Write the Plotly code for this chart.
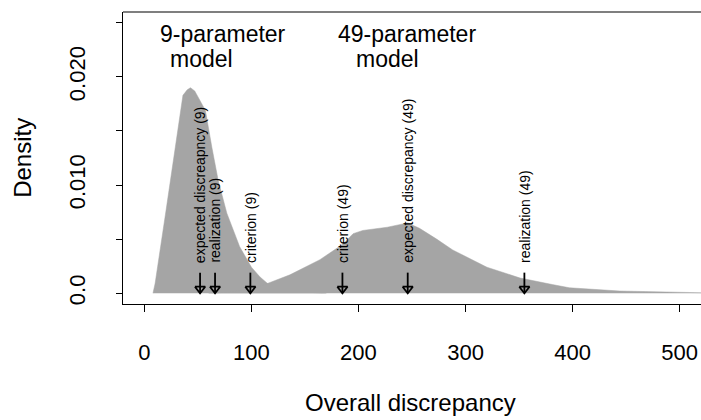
import plotly.graph_objects as go

# Density of the overall discrepancy under the 9-parameter model
nine_x = [8, 10, 20, 30, 36, 40, 43, 47, 57, 63, 69, 77, 89, 100, 108, 115, 130, 150, 170]
nine_y = [0.0, 0.0009, 0.0075, 0.0142, 0.0183, 0.0188, 0.0190, 0.0187, 0.0169, 0.0135,
          0.0104, 0.0074, 0.0043, 0.0024, 0.0015, 0.0009, 0.0004, 0.0001, 0.0]

# Density of the overall discrepancy under the 49-parameter model
forty9_x = [60, 80, 100, 115, 136, 164, 185, 195, 204, 227, 246, 257, 273, 288, 320,
            351, 381, 397, 444, 480, 520, 540]
forty9_y = [0.0, 0.0001, 0.0004, 0.0009, 0.0017, 0.0031, 0.0045, 0.0055, 0.0058, 0.0061,
            0.0065, 0.0060, 0.0050, 0.0040, 0.0024, 0.0014, 0.0008, 0.0005, 0.0002,
            0.00015, 0.0001, 0.0]

# Reference values marked with arrows along the baseline
marker_labels = ["expected discreapncy (9)", "realization (9)", "criterion (9)",
                 "criterion (49)", "expected discrepancy (49)", "realization (49)"]
marker_x = [52, 66, 99, 185, 246, 355]

x_ticks = [0, 100, 200, 300, 400, 500]
y_ticks = [0.0, 0.005, 0.010, 0.015, 0.020, 0.025]
y_tick_text = ["0.0", "", "0.010", "", "0.020", ""]

FONT = "Liberation Sans, Arial, Helvetica, sans-serif"
FILL = "#a5a5a5"

fig = go.Figure()

for xs, ys in ((nine_x, nine_y), (forty9_x, forty9_y)):
    fig.add_trace(go.Scatter(
        x=xs, y=ys, mode="lines", fill="toself", fillcolor=FILL,
        line=dict(color=FILL, width=0.5), hoverinfo="skip", showlegend=False))

# arrows: shaft plus an open triangular head whose tip sits on zero
shaft_top, head_top = 0.0019, 0.0006
head_half = 4.8
ax, ay = [], []
for mx in marker_x:
    ax += [mx, mx, None,
           mx - head_half, mx + head_half, mx, mx - head_half, None]
    ay += [shaft_top, 0.0, None,
           head_top, head_top, 0.0, head_top, None]
fig.add_trace(go.Scatter(x=ax, y=ay, mode="lines",
                         line=dict(color="black", width=1.8),
                         hoverinfo="skip", showlegend=False))

annotations = []
for lab, mx in zip(marker_labels, marker_x):
    annotations.append(dict(
        x=mx, y=0.0026, xref="x", yref="y", text=lab, textangle=-90,
        showarrow=False, xanchor="center", yanchor="bottom",
        font=dict(family=FONT, size=14, color="black")))

# model captions
for txt, xx, yy in (("9-parameter", 73.5, 0.0240), ("model", 53.5, 0.02166),
                    ("49-parameter", 245, 0.0240), ("model", 227.5, 0.02166)):
    annotations.append(dict(x=xx, y=yy, xref="x", yref="y", text=txt,
                            showarrow=False, xanchor="center", yanchor="middle",
                            font=dict(family=FONT, size=23, color="black")))

# axis titles
annotations.append(dict(x=249, y=-0.339, xref="x", yref="paper",
                        text="Overall discrepancy", showarrow=False,
                        xanchor="center", yanchor="middle",
                        font=dict(family=FONT, size=24, color="black")))
annotations.append(dict(x=-0.175, y=0.5, xref="paper", yref="paper",
                        text="Density", showarrow=False, textangle=-90,
                        xanchor="center", yanchor="middle",
                        font=dict(family=FONT, size=24, color="black")))

fig.update_layout(
    width=701, height=420,
    margin=dict(l=123, r=0, t=12, b=116),
    paper_bgcolor="white", plot_bgcolor="white",
    font=dict(family=FONT, color="black"),
    annotations=annotations,
    xaxis=dict(range=[-20, 520], tickvals=x_ticks, ticktext=[str(v) for v in x_ticks],
               showgrid=False, zeroline=False, showline=True, linecolor="black",
               linewidth=1.2, ticks="outside", ticklen=7, tickwidth=1.2,
               tickcolor="black", tickfont=dict(size=22, family=FONT),
               ticklabelstandoff=21, fixedrange=True),
    yaxis=dict(range=[-0.001, 0.026], tickvals=y_ticks, ticktext=y_tick_text,
               showgrid=False, zeroline=False, showline=True, linecolor="black",
               linewidth=1.2, ticks="outside", ticklen=6, tickwidth=1.2,
               tickcolor="black", tickangle=-90, tickfont=dict(size=22, family=FONT),
               ticklabelstandoff=22, fixedrange=True),
    shapes=[dict(type="line", xref="paper", yref="paper", x0=0, x1=1, y0=1, y1=1,
                 line=dict(color="black", width=1.2))],
)

fig.write_html("out.html")
